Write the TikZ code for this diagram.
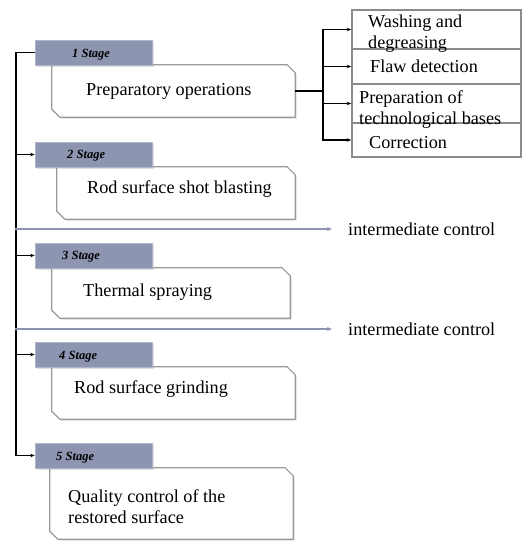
\documentclass[tikz,border=0pt]{standalone}
\usepackage{fontspec}
\setmainfont{Liberation Serif}
\usetikzlibrary{arrows.meta,shadows}
\definecolor{stagefill}{HTML}{8D95B0}
\definecolor{boxline}{HTML}{9A9A9A}
\definecolor{ctrlline}{HTML}{8E92B5}
\tikzset{
  stagebox/.style={draw=stagefill!70!white, line width=0.6pt, fill=stagefill, minimum width=117pt, minimum height=25pt, inner sep=0pt,
    drop shadow={opacity=0.25, shadow xshift=1.5pt, shadow yshift=-1.5pt}},
  stagetxt/.style={anchor=base west, inner sep=0pt, font=\fontsize{12.5}{14}\selectfont\bfseries\itshape},
  mainbox/.style={rectangle, inner sep=0pt},
  chamfer/.style={draw=boxline, line width=1.2pt, fill=white, line join=round},
  chshadow/.style={fill=black, opacity=0.15},
  maintxt/.style={anchor=base west, inner sep=0pt, font=\fontsize{18.2}{21}\selectfont},
  multitxt/.style={anchor=north west, inner sep=0pt, align=left, font=\fontsize{18.2}{21}\selectfont},
  rbox/.style={draw=boxline!90!black, line width=1.5pt, minimum width=169pt, inner sep=0pt},
  link/.style={line width=1.3pt, black},
  arr/.style={link, -{Stealth[length=4.5pt,width=3.5pt]}},
  ctrl/.style={line width=1.2pt, ctrlline, -{Stealth[length=5pt,width=4pt]}},
}
\newcommand{\chbox}[1]{%
  \fill[chshadow] ([xshift=1.5pt,yshift=-1.5pt]#1.north west) -- ([xshift=-8pt+1.5pt,yshift=-1.5pt]#1.north east) -- ([yshift=-8pt-1.5pt,xshift=1.5pt]#1.north east) -- ([xshift=1.5pt,yshift=-1.5pt]#1.south east) -- ([xshift=8pt+1.5pt,yshift=-1.5pt]#1.south west) -- ([yshift=8pt-1.5pt,xshift=1.5pt]#1.south west) -- cycle;
  \draw[chamfer] (#1.north west) -- ([xshift=-8pt]#1.north east) -- ([yshift=-8pt]#1.north east) -- (#1.south east) -- ([xshift=8pt]#1.south west) -- ([yshift=8pt]#1.south west) -- cycle;}
\begin{document}
\begin{tikzpicture}[x=1pt,y=-1pt]
\useasboundingbox (0,0) rectangle (531,550);
% main boxes
\node[mainbox, minimum width=243pt, minimum height=52pt] (b1) at (173.5,91) {};
\node[mainbox, minimum width=238pt, minimum height=52pt] (b2) at (176,193) {};
\node[mainbox, minimum width=238pt, minimum height=50pt] (b3) at (171,293) {};
\node[mainbox, minimum width=243pt, minimum height=52pt] (b4) at (173.5,393) {};
\node[mainbox, minimum width=243pt, minimum height=71pt] (b5) at (171.5,503.5) {};
\chbox{b1}\chbox{b2}\chbox{b3}\chbox{b4}\chbox{b5}
% texts in main boxes
\node[maintxt] (t1) at (86,95) {Preparatory operations};
\node[maintxt] (t2) at (87,193) {Rod surface shot blasting};
\node[maintxt] (t3) at (83,296) {Thermal spraying};
\node[maintxt] (t4) at (74,393) {Rod surface grinding};
\node[multitxt] (t5) at (68,489.5) {Quality control of the\\restored surface};
% stage labels
\node[stagebox] (s1) at (93.5,52.5) {};
\node[stagebox] (s2) at (93.5,154.5) {};
\node[stagebox] (s3) at (93.5,255.5) {};
\node[stagebox] (s4) at (93.5,354.5) {};
\node[stagebox] (s5) at (93.5,455.5) {};
\node[stagetxt] (l1) at (72,57) {1 Stage};
\node[stagetxt] (l2) at (67,158) {2 Stage};
\node[stagetxt] (l3) at (62,259) {3 Stage};
\node[stagetxt] (l4) at (59,359) {4 Stage};
\node[stagetxt] (l5) at (56,460) {5 Stage};
% right boxes
\node[rbox, minimum height=39pt] (r1) at (436.5,29.5) {};
\node[rbox, minimum height=35pt] (r2) at (436.5,66.5) {};
\node[rbox, minimum height=39pt] (r3) at (436.5,103.5) {};
\node[rbox, minimum height=34pt] (r4) at (436.5,140) {};
\node[multitxt] (rt1) at (368,15) {Washing and\\degreasing};
\node[maintxt] (rt2) at (370,72) {Flaw detection};
\node[multitxt] (rt3) at (359,90) {Preparation of\\technological bases};
\node[maintxt] (rt4) at (369,148) {Correction};
% branch
\coordinate (j) at (323,91);
\draw[link] (b1.east) -- (j);
\draw[arr] (j) |- (r1.west);
\draw[arr] (j) |- (r2.west);
\draw[arr] (j) |- (r3.west);
\draw[arr] (j) |- (r4.west);
% main spine
\coordinate (m1) at (16,52.5);
\coordinate (m5) at (16,455.5);
\draw[link] (s1.west) -- (m1) -- (m5);
\draw[arr] (s2.west -| m1) -- (s2.west);
\draw[arr] (s3.west -| m1) -- (s3.west);
\draw[arr] (s4.west -| m1) -- (s4.west);
\draw[arr] (m5) -- (s5.west);
% intermediate control
\node[anchor=west, inner sep=0pt, font=\fontsize{18.2}{21}\selectfont] (ic1) at (348,229) {intermediate control};
\node[anchor=west, inner sep=0pt, font=\fontsize{18.2}{21}\selectfont] (ic2) at (348,329) {intermediate control};
\coordinate (c1) at (16,229);
\coordinate (c2) at (16,329);
\fill[ctrlline] (c1) circle (1.5pt);
\fill[ctrlline] (c2) circle (1.5pt);
\draw[ctrl, shorten >=16pt] (c1) -- (ic1.west);
\draw[ctrl, shorten >=16pt] (c2) -- (ic2.west);
\end{tikzpicture}
\end{document}
